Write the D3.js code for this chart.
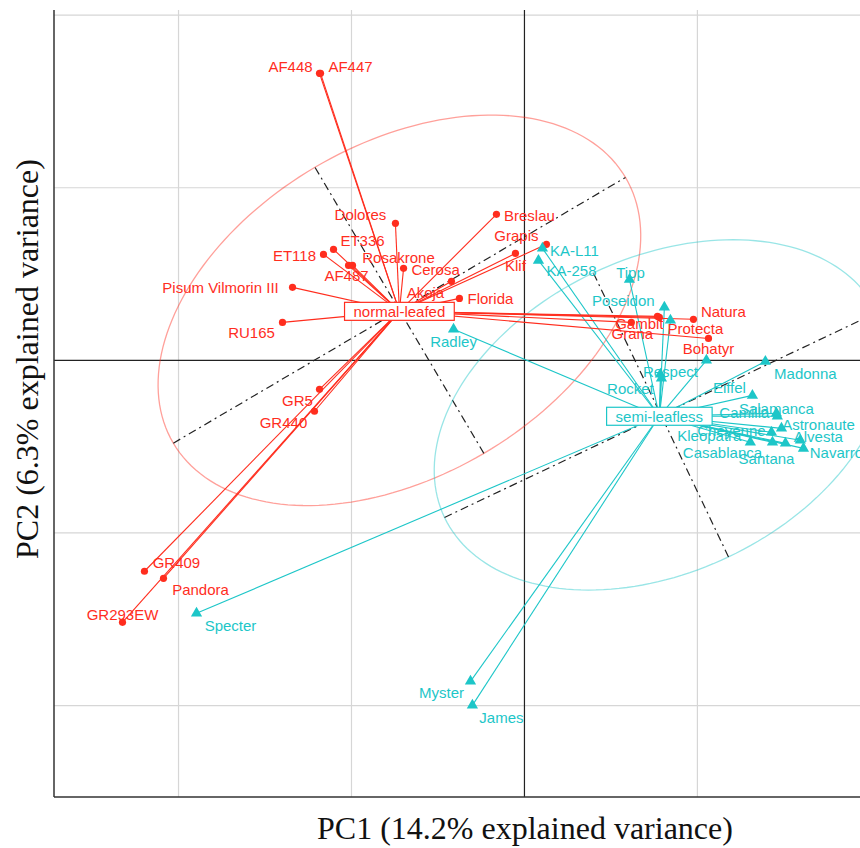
<!DOCTYPE html>
<html><head><meta charset="utf-8">
<script src="https://cdn.jsdelivr.net/npm/d3@7"></script>
<style>body{margin:0;background:#fff}</style>
</head><body><svg id="chart" width="860" height="848"></svg>
<script>
// PCA individuals: normal-leafed cultivars
const normalNames = ["AF448","AF447","Dolores","Breslau","Grapis","Klif","ET336","ET118","AF487","Rosakrone","Cerosa","Akoja","Florida","Pisum Vilmorin III","RU165","GR5","GR440","GR409","Pandora","GR293EW","Natura","Gambit","Grana","Protecta","Bohatyr"];
const normalPC1 = [-1.185,-1.179,-0.746,-0.162,0.127,-0.052,-1.104,-1.162,-1.017,-0.994,-0.699,-0.422,-0.376,-1.341,-1.399,-1.185,-1.214,-2.197,-2.087,-2.324,0.977,0.780,0.618,0.769,1.064];
const normalPC2 = [1.663,1.663,0.794,0.846,0.672,0.620,0.643,0.614,0.550,0.550,0.533,0.458,0.359,0.423,0.220,-0.168,-0.295,-1.222,-1.263,-1.518,0.238,0.249,0.220,0.255,0.127];

// PCA individuals: semi-leafless cultivars (null = label not shown)
const semiNames = ["KA-L11","KA-258","Radley","Tipp","Poseidon",null,"Respect","Rocket",null,"Madonna","Eiffel","Salamanca","Camilla","Astronaute","Cheyenne","Kleopatra","Santana","Casablanca","Alvesta","Navarro","Specter","Myster","James"];
const semiPC1 = [0.104,0.081,-0.410,0.607,0.809,0.844,0.786,0.792,1.052,1.393,1.318,1.457,1.462,1.486,1.428,1.306,1.434,1.509,1.595,1.613,-1.896,-0.312,-0.301];
const semiPC2 = [0.649,0.579,0.180,0.469,0.307,0.232,-0.081,-0.104,0.000,-0.006,-0.203,-0.307,-0.324,-0.394,-0.417,-0.475,-0.475,-0.481,-0.463,-0.510,-1.466,-1.860,-1.999];

// group means
const groupNames = ["normal-leafed","semi-leafless"];
const groupPC1 = [-0.723,0.780];
const groupPC2 = [0.284,-0.324];

// concentration ellipses: centre, semi-axes and tilt (degrees)
const ellipsePC1 = [-0.723,0.789];
const ellipsePC2 = [0.290,-0.316];
const ellipseMajor = [1.517,1.385];
const ellipseMinor = [0.962,0.911];
const ellipseAngle = [30.5,25.4];

// grid breaks
const gridPC1 = [-2,-1,0,1];
const gridPC2 = [-2,-1,0,1,2];

// label nudges (px) as placed by the repel step
const labelNudge = {
  "AF448":[-29,-7],"AF447":[30,-7],"Dolores":[-35,-9],"Breslau":[33,1],"Grapis":[-30,-9],
  "Klif":[0,12],"ET336":[29,-9],"ET118":[-29,1],"AF487":[-2,10],"Rosakrone":[46,-8],
  "Cerosa":[32,1],"Akoja":[-26,11],"Florida":[31,0],"Pisum Vilmorin III":[-72,0],"RU165":[-31,10],
  "GR5":[-22,11],"GR440":[-31,11],"GR409":[32,-9],"Pandora":[37,11],"GR293EW":[0,-8],
  "Natura":[30,-8],"Gambit":[-20,6],"Grana":[1,11],"Protecta":[38,12],"Bohatyr":[0,10],
  "KA-L11":[32,2],"KA-258":[33,10],"Radley":[0,12],"Tipp":[1,-7],"Poseidon":[-41,-7],
  "Respect":[10,-3],"Rocket":[-31,10],"Madonna":[40,12],"Eiffel":[-23,-8],"Salamanca":[0,-5],
  "Camilla":[-33,-4],"Astronaute":[37,-4],"Cheyenne":[-40,-2],"Kleopatra":[-41,-7],"Santana":[-6,16],
  "Casablanca":[-63,9],"Alvesta":[18,-4],"Navarro":[33,4],"Specter":[34,12],"Myster":[-29,11],"James":[29,12]
};

const colors = ["#FF2D1E","#1DC6C8"];
const W = 860, H = 848;
const panel = {left:54, right:860, top:10, bottom:797};

const x = d3.scaleLinear().domain([-2.72,1.94]).range([panel.left,panel.right]);
const y = d3.scaleLinear().domain([-2.53,2.03]).range([panel.bottom,panel.top]);

const svg = d3.select("#chart");
svg.append("defs").append("clipPath").attr("id","clip")
  .append("rect").attr("x",panel.left).attr("y",panel.top)
  .attr("width",panel.right-panel.left).attr("height",panel.bottom-panel.top);

const plot = svg.append("g").attr("clip-path","url(#clip)");

// grid
plot.append("g").selectAll("line").data(gridPC1.filter(d=>d!==0)).join("line")
  .attr("x1",d=>x(d)).attr("x2",d=>x(d)).attr("y1",panel.top).attr("y2",panel.bottom)
  .attr("stroke","#d6d6d6").attr("stroke-width",1.2);
plot.append("g").selectAll("line").data(gridPC2.filter(d=>d!==0)).join("line")
  .attr("y1",d=>y(d)).attr("y2",d=>y(d)).attr("x1",panel.left).attr("x2",panel.right)
  .attr("stroke","#d6d6d6").attr("stroke-width",1.2);
// zero lines
plot.append("line").attr("x1",x(0)).attr("x2",x(0)).attr("y1",panel.top).attr("y2",panel.bottom)
  .attr("stroke","#222").attr("stroke-width",1.2);
plot.append("line").attr("y1",y(0)).attr("y2",y(0)).attr("x1",panel.left).attr("x2",panel.right)
  .attr("stroke","#222").attr("stroke-width",1.2);

// group tables
const groups = groupNames.map((g,i)=>({
  name:g, color:colors[i], cx:groupPC1[i], cy:groupPC2[i],
  ex:ellipsePC1[i], ey:ellipsePC2[i], a:ellipseMajor[i], b:ellipseMinor[i], ang:ellipseAngle[i]*Math.PI/180,
  pts:(i===0?normalNames:semiNames).map((n,j)=>({
    name:n,
    pc1:(i===0?normalPC1:semiPC1)[j],
    pc2:(i===0?normalPC2:semiPC2)[j]
  }))
}));

// ellipses and their axes
const ell = d3.line().x(d=>x(d[0])).y(d=>y(d[1]));
groups.forEach(g=>{
  const ca=Math.cos(g.ang), sa=Math.sin(g.ang);
  const ring = d3.range(0,361,2).map(t=>{
    const r=t*Math.PI/180;
    return [g.ex + g.a*ca*Math.cos(r) - g.b*sa*Math.sin(r),
            g.ey + g.a*sa*Math.cos(r) + g.b*ca*Math.sin(r)];
  });
  plot.append("path").attr("d",ell(ring)).attr("fill","none")
    .attr("stroke",g.color).attr("stroke-opacity",0.45).attr("stroke-width",1.3);
  const axes = [
    [[g.ex-g.a*ca,g.ey-g.a*sa],[g.ex+g.a*ca,g.ey+g.a*sa]],
    [[g.ex+g.b*sa,g.ey-g.b*ca],[g.ex-g.b*sa,g.ey+g.b*ca]]
  ];
  axes.forEach(s=>plot.append("path").attr("d",ell(s)).attr("fill","none")
    .attr("stroke","#222").attr("stroke-width",1.2).attr("stroke-dasharray","8,4,2,4"));
});

// star segments from group mean to each individual
groups.slice().reverse().forEach(g=>{
  plot.append("g").selectAll("line").data(g.pts).join("line")
    .attr("x1",x(g.cx)).attr("y1",y(g.cy))
    .attr("x2",d=>x(d.pc1)).attr("y2",d=>y(d.pc2))
    .attr("stroke",g.color).attr("stroke-width",1.1);
});

// points
plot.append("g").selectAll("circle").data(groups[0].pts).join("circle")
  .attr("cx",d=>x(d.pc1)).attr("cy",d=>y(d.pc2)).attr("r",3.6).attr("fill",colors[0]);
const tri = d3.symbol().type(d3.symbolTriangle).size(55);
plot.append("g").selectAll("path").data(groups[1].pts).join("path")
  .attr("d",tri).attr("transform",d=>`translate(${x(d.pc1)},${y(d.pc2)})`).attr("fill",colors[1]);

// individual labels
groups.forEach(g=>{
  plot.append("g").selectAll("text").data(g.pts.filter(d=>d.name)).join("text")
    .attr("x",d=>x(d.pc1)+labelNudge[d.name][0])
    .attr("y",d=>y(d.pc2)+labelNudge[d.name][1])
    .attr("dy","0.35em").attr("text-anchor","middle")
    .attr("font-family","'Liberation Sans', Arial, sans-serif").attr("font-size",15)
    .attr("fill",g.color).text(d=>d.name);
});

// group mean labels
groups.forEach(g=>{
  const gg = plot.append("g");
  const t = gg.append("text").attr("x",x(g.cx)).attr("y",y(g.cy)).attr("dy","0.35em")
    .attr("text-anchor","middle").attr("font-family","'Liberation Sans', Arial, sans-serif")
    .attr("font-size",15).attr("fill",g.color).text(g.name);
  const bb = t.node().getBBox();
  gg.insert("rect","text").attr("x",bb.x-9).attr("y",y(g.cy)-9).attr("width",bb.width+18).attr("height",18)
    .attr("fill","#fff").attr("stroke",g.color).attr("stroke-width",1.2);
});

// axis lines
svg.append("line").attr("x1",panel.left).attr("x2",panel.left).attr("y1",panel.top).attr("y2",panel.bottom)
  .attr("stroke","#333").attr("stroke-width",1.5);
svg.append("line").attr("x1",panel.left).attr("x2",panel.right).attr("y1",panel.bottom).attr("y2",panel.bottom)
  .attr("stroke","#333").attr("stroke-width",1.5);

// axis titles
svg.append("text").attr("x",525).attr("y",839).attr("text-anchor","middle")
  .attr("font-family","'Liberation Serif', 'Times New Roman', serif").attr("font-size",32)
  .attr("fill","#111").text("PC1 (14.2% explained variance)");
svg.append("text").attr("transform","translate(38,359) rotate(-90)").attr("text-anchor","middle")
  .attr("font-family","'Liberation Serif', 'Times New Roman', serif").attr("font-size",32)
  .attr("fill","#111").text("PC2 (6.3% explained variance)");
</script></body></html>
